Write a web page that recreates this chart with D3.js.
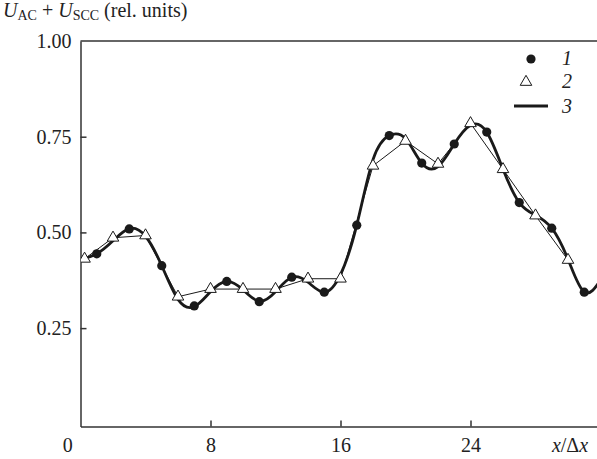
<!DOCTYPE html>
<html>
<head>
<meta charset="utf-8">
<script src="https://cdn.jsdelivr.net/npm/d3@7"></script>
<style>
  body { margin: 0; background: #fff; }
  svg text { font-family: "Liberation Serif", "Times New Roman", Times, "DejaVu Serif", serif !important; fill: #222; }
</style>
</head>
<body>
<div id="vis"></div>
<script>
// series 1 (dots), series 2 (triangles), series 3 (smooth curve)
const dotX = [1, 3, 5, 7, 9, 11, 13, 15, 17, 19, 21, 23, 25, 27, 29, 31];
const dotY = [0.444, 0.509, 0.413, 0.308, 0.372, 0.319, 0.383, 0.344, 0.519, 0.753, 0.681, 0.731, 0.762, 0.578, 0.511, 0.344];

const triX = [0.25, 2, 4, 6, 8, 10, 12, 14, 16, 18, 20, 22, 24, 26, 28, 30];
const triY = [0.431, 0.486, 0.492, 0.332, 0.352, 0.352, 0.352, 0.379, 0.379, 0.674, 0.739, 0.679, 0.785, 0.665, 0.544, 0.428];

const curveX = [0, 1, 2, 3, 4, 5, 6, 7, 8, 9, 10, 11, 12, 13, 14, 15, 16, 17, 18, 19, 20, 21, 22, 23, 24, 25, 26, 27, 28, 29, 30, 31, 32];
const curveY = [0.43, 0.444, 0.478, 0.51, 0.49, 0.413, 0.325, 0.306, 0.345, 0.372, 0.35, 0.32, 0.345, 0.383, 0.37, 0.344, 0.39, 0.519, 0.69, 0.753, 0.745, 0.681, 0.672, 0.731, 0.78, 0.762, 0.665, 0.578, 0.545, 0.511, 0.43, 0.344, 0.375];

const xTicks = [8, 16, 24];
const yTicks = [0.25, 0.5, 0.75, 1.0];

const W = 597, H = 459;
const serif = '"Liberation Serif", "Times New Roman", Times, "DejaVu Serif", serif';
const svg = d3.select("#vis").append("svg").attr("width", W).attr("height", H)
  .attr("font-family", serif);

const x = d3.scaleLinear().domain([0, 32]).range([80.5, 600.5]);
const y = d3.scaleLinear().domain([-0.007, 1]).range([426.5, 41]);

svg.append("clipPath").attr("id", "plot")
  .append("rect").attr("x", 81).attr("y", 30).attr("width", 520).attr("height", 396);

const ink = "#1a1a1a";

// axes
const yAxis = svg.append("g").attr("transform", "translate(80.5,0)")
  .call(d3.axisLeft(y).tickValues(yTicks).tickFormat(d3.format(".2f"))
    .tickSizeInner(-6).tickSizeOuter(0).tickPadding(9));
const xAxis = svg.append("g").attr("transform", "translate(0,426.5)")
  .call(d3.axisBottom(x).tickValues(xTicks).tickFormat(d3.format("d"))
    .tickSizeInner(-6).tickSizeOuter(0).tickPadding(11));

[yAxis, xAxis].forEach(g => {
  g.attr("font-family", serif).attr("font-size", 20);
  g.selectAll("path, line").attr("stroke", "#333").attr("stroke-width", 1.5);
  g.selectAll("text").attr("fill", "#222");
});
yAxis.selectAll(".tick").filter(d => d === 1).select("line").remove();

// top frame line
svg.append("line")
  .attr("x1", x(0)).attr("x2", W).attr("y1", y(1)).attr("y2", y(1))
  .attr("stroke", "#333").attr("stroke-width", 1.5);

// origin label and axis titles
svg.append("text").attr("x", 67.7).attr("y", 452).attr("text-anchor", "middle")
  .attr("font-size", 20).text("0");

const xl = svg.append("text").attr("x", 570).attr("y", 452).attr("text-anchor", "middle")
  .attr("font-size", 20);
xl.append("tspan").attr("font-style", "italic").text("x");
xl.append("tspan").text("/Δ");
xl.append("tspan").attr("font-style", "italic").text("x");

const yl = svg.append("text").attr("x", 3).attr("y", 17).attr("font-size", 20);
yl.append("tspan").attr("font-style", "italic").text("U");
yl.append("tspan").attr("font-size", 14).attr("dy", 3).text("AC");
yl.append("tspan").attr("dy", -3).text(" + ");
yl.append("tspan").attr("font-style", "italic").text("U");
yl.append("tspan").attr("font-size", 14).attr("dy", 3).text("SCC");
yl.append("tspan").attr("dy", -3).text(" (rel. units)");

// plot
const plot = svg.append("g").attr("clip-path", "url(#plot)");

const curvePts = curveX.map((v, i) => [v, curveY[i]]);
plot.append("path")
  .datum(curvePts)
  .attr("fill", "none").attr("stroke", ink).attr("stroke-width", 2.8)
  .attr("d", d3.line().x(d => x(d[0])).y(d => y(d[1])).curve(d3.curveNatural));

const triPts = triX.map((v, i) => [v, triY[i]]);
plot.append("path")
  .datum(triPts)
  .attr("fill", "none").attr("stroke", ink).attr("stroke-width", 1)
  .attr("d", d3.line().x(d => x(d[0])).y(d => y(d[1])));

const dotPts = dotX.map((v, i) => [v, dotY[i]]);
plot.selectAll("circle.dot")
  .data(dotPts)
  .enter()
  .append("circle")
  .attr("class", "dot")
  .attr("cx", d => x(d[0])).attr("cy", d => y(d[1]))
  .attr("r", 4.6).attr("fill", ink);

const tri = d3.symbol(d3.symbolTriangle, 58);
plot.selectAll("path.tri")
  .data(triPts)
  .enter()
  .append("path")
  .attr("class", "tri")
  .attr("transform", d => `translate(${x(d[0])},${y(d[1])})`)
  .attr("d", tri)
  .attr("fill", "#fff").attr("stroke", ink).attr("stroke-width", 1);

// legend
const leg = svg.append("g");
leg.append("circle").attr("cx", 531).attr("cy", 59).attr("r", 4.6).attr("fill", ink);
leg.append("path").attr("transform", "translate(526,82)").attr("d", tri)
  .attr("fill", "#fff").attr("stroke", ink).attr("stroke-width", 1);
leg.append("line").attr("x1", 514).attr("x2", 548).attr("y1", 106).attr("y2", 106)
  .attr("stroke", ink).attr("stroke-width", 2.8);
[["1", 65], ["2", 88], ["3", 113]].forEach(([t, by]) => {
  leg.append("text").attr("x", 562).attr("y", by).attr("font-size", 20)
    .attr("font-style", "italic").text(t);
});
</script>
</body>
</html>
